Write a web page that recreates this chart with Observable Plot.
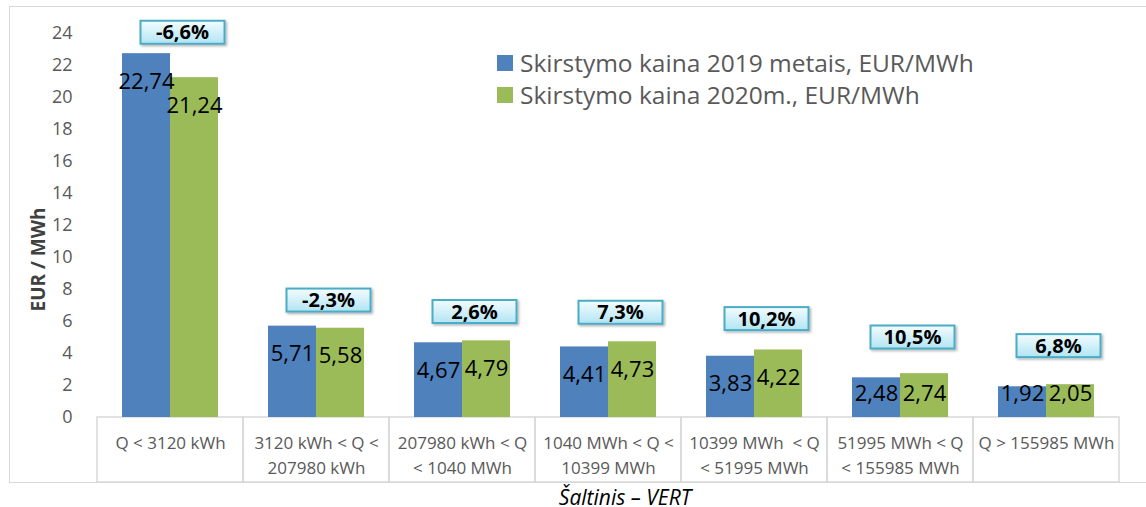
<!DOCTYPE html>
<html>
<head>
<meta charset="utf-8">
<script src="https://cdn.jsdelivr.net/npm/d3@7"></script>
<script src="https://cdn.jsdelivr.net/npm/@observablehq/plot@0.6"></script>
<style>
  html, body { margin: 0; padding: 0; background: #fff; }
  #wrap { position: relative; width: 1146px; height: 507px; overflow: hidden; font-family: "Open Sans", sans-serif; }
  #frame { position: absolute; left: 9px; top: 6px; width: 1160px; height: 477px; border: 1.5px solid #d9d9d9; box-sizing: border-box; }
  #chart { position: absolute; left: 0; top: 0; }
  #legend { position: absolute; left: 497px; top: 47px; font-size: 24.5px; line-height: 32px; color: #595959; white-space: nowrap; }
  #legend .item { display: flex; align-items: center; }
  #legend .sw { display: inline-block; width: 16px; height: 16px; margin-right: 7px; }
  #caption { position: absolute; left: 485px; width: 280px; top: 487px; text-align: center; font-style: italic; font-size: 21px; line-height: 21px; color: #000; }
</style>
</head>
<body>
<div id="wrap">
  <div id="frame"></div>
  <div id="chart"></div>
  <div id="legend"></div>
  <div id="caption"></div>
</div>
<script>
// ---- data ----
const categories = [
  "Q < 3120 kWh",
  "3120 kWh < Q <\n207980 kWh",
  "207980 kWh < Q\n< 1040 MWh",
  "1040 MWh < Q <\n10399 MWh",
  "10399 MWh  < Q\n< 51995 MWh",
  "51995 MWh < Q\n< 155985 MWh",
  "Q > 155985 MWh"
];
const series = ["Skirstymo kaina 2019 metais, EUR/MWh", "Skirstymo kaina 2020m., EUR/MWh"];
const values2019 = [22.74, 5.71, 4.67, 4.41, 3.83, 2.48, 1.92];
const values2020 = [21.24, 5.58, 4.79, 4.73, 4.22, 2.74, 2.05];
const changePct = [-6.6, -2.3, 2.6, 7.3, 10.2, 10.5, 6.8];
const yTicks = [0, 2, 4, 6, 8, 10, 12, 14, 16, 18, 20, 22, 24];
const yLabel = "EUR / MWh";
const sourceText = "Šaltinis – VERT";
const colors = ["#4f81bd", "#9bbb59"];

// ---- tables ----
const rows = categories.flatMap((c, i) => [
  {cat: c, s: series[0], v: values2019[i]},
  {cat: c, s: series[1], v: values2020[i]}
]);
const pctRows = categories.map((c, i) => ({cat: c, pct: changePct[i], top: Math.max(values2019[i], values2020[i])}));
const fmt = v => v.toFixed(2).replace(".", ",");
const fmtPct = p => p.toFixed(1).replace(".", ",") + "%";

const chart = Plot.plot({
  width: 1146,
  height: 482,
  marginLeft: 94,
  marginRight: 24,
  marginTop: 33,
  marginBottom: 65,
  style: {fontFamily: "'Open Sans', sans-serif", background: "transparent", overflow: "visible"},
  fx: {domain: categories, padding: 0, label: null},
  x: {domain: series, paddingInner: 0, paddingOuter: 0.5, axis: null},
  y: {domain: [0, 24], label: null},
  color: {domain: series, range: colors},
  marks: [
    Plot.rect([0], {y1: d => d, y2: d => d, insetBottom: -65, stroke: "#d9d9d9", strokeWidth: 1.5, fill: "none"}),
    Plot.barY(rows, {fx: "cat", x: "s", y: "v", fill: "s"}),
    Plot.text(rows, {fx: "cat", x: "s", y: d => Math.max(d.v - 1.75, 1.5), text: d => fmt(d.v), fontSize: 22, fill: "#000"}),
    Plot.text(pctRows, {fx: "cat", y: d => d.top + Math.max(1.3, 2.86 - 0.222 * d.top), text: d => fmtPct(d.pct), dx: 12, fontSize: 20, fontWeight: "bold", fill: "#000"}),
    Plot.axisY({ticks: yTicks, tickSize: 0, tickPadding: 25, fontSize: 18, fill: "#595959", label: null}),
    Plot.axisFx({anchor: "bottom", tickSize: 0, tickPadding: 14, fontSize: 17, lineHeight: 1.47, fill: "#595959", label: null}),
    Plot.text([yLabel], {frameAnchor: "left", textAnchor: "middle", rotate: -90, dx: -59, dy: 34, fontSize: 19, fontWeight: "bold", fill: "#404040", facetAnchor: "left"})
  ]
});
document.getElementById("chart").appendChild(chart);

// boxes behind percentage labels
const svg = d3.select(chart);
const defs = svg.insert("defs", ":first-child");
const grad = defs.append("linearGradient").attr("id", "pctGrad").attr("x1", 0).attr("y1", 0).attr("x2", 0).attr("y2", 1);
grad.append("stop").attr("offset", "0%").attr("stop-color", "#f3fcfe");
grad.append("stop").attr("offset", "100%").attr("stop-color", "#b2e4f3");
const filt = defs.append("filter").attr("id", "pctShadow").attr("x", "-20%").attr("y", "-30%").attr("width", "140%").attr("height", "160%");
filt.append("feDropShadow").attr("dx", 1.5).attr("dy", 1.5).attr("stdDeviation", 1).attr("flood-color", "#000").attr("flood-opacity", 0.3);
svg.selectAll("text").filter(function() { return /%$/.test(this.textContent.trim()); }).each(function() {
  const bb = this.getBBox();
  const cx = bb.x + bb.width / 2, cy = bb.y + bb.height / 2 + 0.5;
  const r = document.createElementNS("http://www.w3.org/2000/svg", "rect");
  const t = this.getAttribute("transform");
  if (t) r.setAttribute("transform", t);
  r.setAttribute("x", cx - 42);
  r.setAttribute("y", cy - 11.5);
  r.setAttribute("width", 84);
  r.setAttribute("height", 23);
  r.setAttribute("fill", "url(#pctGrad)");
  r.setAttribute("stroke", "#4bacc6");
  r.setAttribute("stroke-width", 2);
  r.setAttribute("filter", "url(#pctShadow)");
  this.parentNode.insertBefore(r, this);
});

// legend
const legend = d3.select("#legend");
series.forEach((s, i) => {
  const item = legend.append("div").attr("class", "item");
  item.append("span").attr("class", "sw").style("background", colors[i]);
  item.append("span").text(s);
});
document.getElementById("caption").textContent = sourceText;
</script>
</body>
</html>
